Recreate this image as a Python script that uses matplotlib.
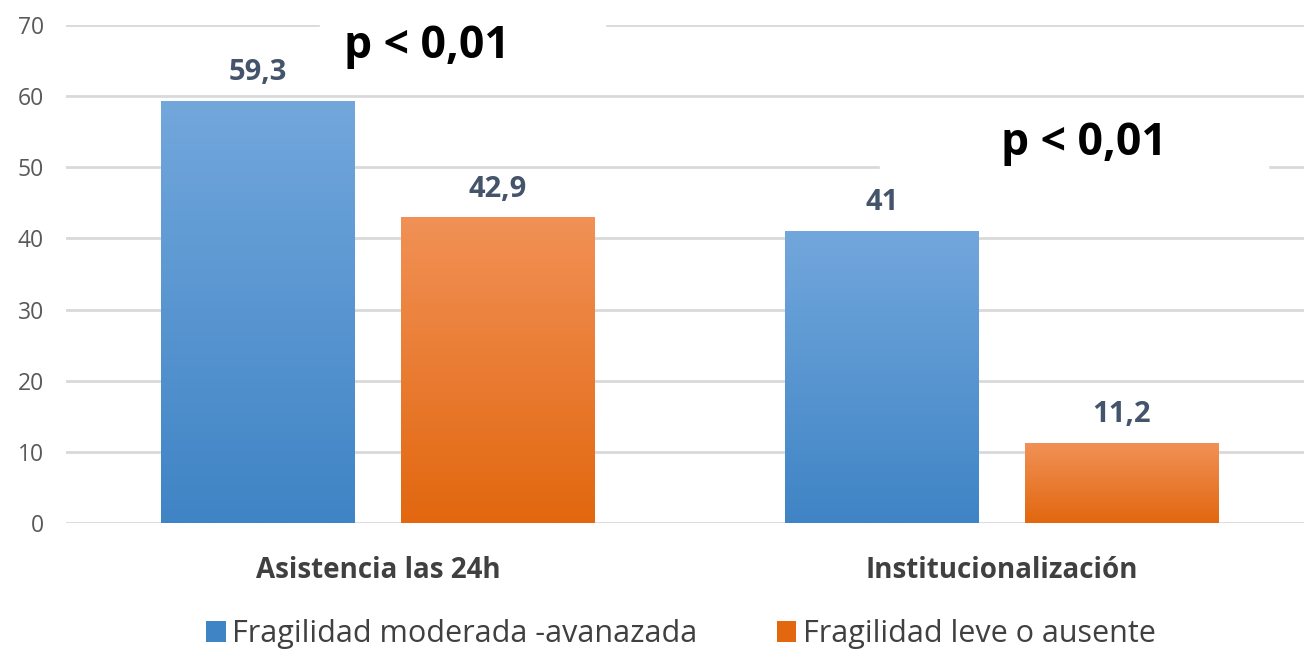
import numpy as np
import matplotlib
matplotlib.use("Agg")
import matplotlib.pyplot as plt
from matplotlib.colors import LinearSegmentedColormap
from matplotlib.patches import Rectangle

plt.rcParams['font.family'] = ['Open Sans', 'DejaVu Sans']

# datos
categorias = ["Asistencia las 24h", "Institucionalización"]
series = ["Fragilidad moderada -avanazada", "Fragilidad leve o ausente"]
moderada = [59.3, 41]
leve = [42.9, 11.2]
etiquetas_mod = ["59,3", "41"]
etiquetas_leve = ["42,9", "11,2"]
p_valores = ["p < 0,01", "p < 0,01"]

fig = plt.figure(figsize=(13.04, 6.57), dpi=100)
ax = fig.add_axes([66 / 1304, 134 / 657, 1248 / 1304, 498 / 657])

x = np.arange(len(categorias))
ancho = 0.31
desp = 0.192

azul = ("#72a7dc", "#3f84c5")
naranja = ("#f19156", "#e2670f")

b1 = ax.bar(x - desp, moderada, ancho, color=azul[1], label=series[0], zorder=3)
b2 = ax.bar(x + desp, leve, ancho, color=naranja[1], label=series[1], zorder=3)

# degradado vertical en cada barra
grad = np.linspace(1, 0, 256).reshape(-1, 1)
for barras, cols in ((b1, azul), (b2, naranja)):
    cmap = LinearSegmentedColormap.from_list("g", [cols[1], cols[0]])
    for r in barras:
        x0, w, h = r.get_x(), r.get_width(), r.get_height()
        ax.imshow(grad, extent=(x0, x0 + w, 0, h), cmap=cmap, aspect='auto',
                  zorder=3.5, vmin=0, vmax=1)

for barras, etiq in ((b1, etiquetas_mod), (b2, etiquetas_leve)):
    for r, t in zip(barras, etiq):
        ax.annotate(t, (r.get_x() + r.get_width() / 2, r.get_height()),
                    xytext=(0, 10), textcoords='offset points', ha='center',
                    va='bottom', fontsize=21, fontweight='bold', color='#44546a')

ax.set_xlim(-0.5, 1.5)
ax.set_ylim(0, 70)
ax.set_yticks(range(0, 71, 10))
ax.set_xticks(x)
ax.set_xticklabels(categorias, fontsize=20, fontweight='bold', color='#404040')
ax.tick_params(axis='y', length=0, pad=16, labelsize=16.5, labelcolor='#595959')
ax.tick_params(axis='x', length=0, pad=24)
ax.yaxis.grid(True, color='#d9d9d9', lw=2, zorder=0)
ax.set_axisbelow(True)
for s in ax.spines.values():
    s.set_visible(False)

# cuadros blancos de los valores p
ax.add_patch(Rectangle((-0.093, 62.3), 0.457, 11.5, color='white', zorder=2, clip_on=False))
ax.add_patch(Rectangle((0.804, 48.2), 0.622, 9.8, color='white', zorder=2, clip_on=False))
ax.text(0.0785, 67.0, p_valores[0], ha='center', va='center', fontsize=32,
        fontweight='bold', color='black', zorder=5)
ax.text(1.131, 53.3, p_valores[1], ha='center', va='center', fontsize=32,
        fontweight='bold', color='black', zorder=5)

fig.legend(handles=[b1, b2], labels=series, loc='lower center', ncol=2,
           bbox_to_anchor=(0.522, -0.03), frameon=False, fontsize=22,
           handlelength=0.65, handleheight=0.65, handletextpad=0.2,
           columnspacing=2.6, labelcolor='#404040')

fig.savefig("out.png", dpi=100)
